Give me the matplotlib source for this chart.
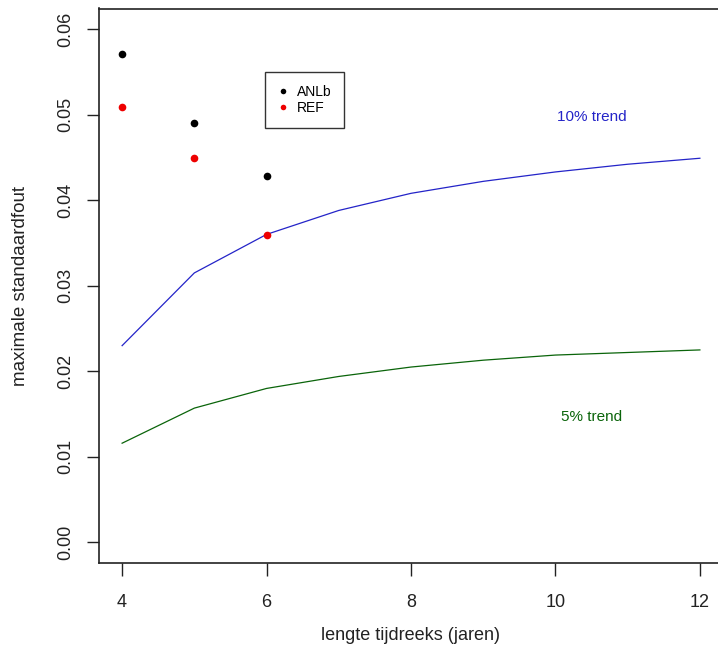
import matplotlib
matplotlib.use("Agg")
import matplotlib.pyplot as plt
from matplotlib.lines import Line2D

plt.rcParams['font.family'] = ['Liberation Sans', 'DejaVu Sans']

years = [4, 5, 6, 7, 8, 9, 10, 11, 12]
trend10 = [0.0230, 0.0315, 0.0360, 0.0388, 0.0408, 0.0422, 0.0433, 0.0442, 0.0449]
trend5 = [0.0116, 0.0157, 0.0180, 0.0194, 0.0205, 0.0213, 0.0219, 0.0222, 0.0225]

pt_years = [4, 5, 6]
anlb = [0.0571, 0.0490, 0.0428]
ref = [0.0509, 0.0449, 0.0359]

xticks = [4, 6, 8, 10, 12]
yticks = [0.00, 0.01, 0.02, 0.03, 0.04, 0.05, 0.06]

W, H = 718, 657
fig = plt.figure(figsize=(W / 100, H / 100), dpi=100)
ax = fig.add_axes([99 / W, (H - 563) / H, 624 / W, 554.5 / H])

blue = '#2424c8'
green = '#0a640a'
ax.plot(years, trend10, color=blue, lw=0.9)
ax.plot(years, trend5, color=green, lw=0.9)
ax.plot(pt_years, anlb, 'o', color='black', ms=5.5, mec='none')
ax.plot(pt_years, ref, 'o', color='#ee0000', ms=5.5, mec='none')

ax.text(10.5, 0.0497, '10% trend', color=blue, fontsize=11, ha='center', va='center')
ax.text(10.5, 0.0147, '5% trend', color=green, fontsize=11, ha='center', va='center')

ax.set_xlim(3.68, 12.32)
ax.set_ylim(-0.0024, 0.0624)
ax.set_xticks(xticks)
ax.set_xticklabels([str(v) for v in xticks])
ax.set_yticks(yticks)
ax.set_yticklabels([f'{v:.2f}' for v in yticks], rotation=90, va='center')
ax.tick_params(direction='out', length=9, width=1, labelsize=13, colors='#222222')
ax.tick_params(axis='x', pad=13)
ax.tick_params(axis='y', pad=9)
for s in ax.spines.values():
    s.set_linewidth(1.2)
    s.set_color('#222222')

ax.set_xlabel('lengte tijdreeks (jaren)', fontsize=13, labelpad=12, color='#222222')
ax.set_ylabel('maximale standaardfout', fontsize=13.5, labelpad=20, color='#222222')

handles = [Line2D([], [], marker='o', ls='none', color='black', ms=4, mec='none'),
           Line2D([], [], marker='o', ls='none', color='#ee0000', ms=4, mec='none')]
leg = ax.legend(handles, ['ANLb', 'REF'], loc='upper left',
                bbox_to_anchor=((265 - 99) / 624, (563 - 72) / 554.5),
                frameon=True, fancybox=False, fontsize=10, handlelength=0.8,
                handletextpad=0.6, borderpad=0.9, labelspacing=0.2,
                borderaxespad=0)
leg.get_frame().set_edgecolor('black')
leg.get_frame().set_linewidth(1.0)

fig.savefig('out.png', dpi=100)
